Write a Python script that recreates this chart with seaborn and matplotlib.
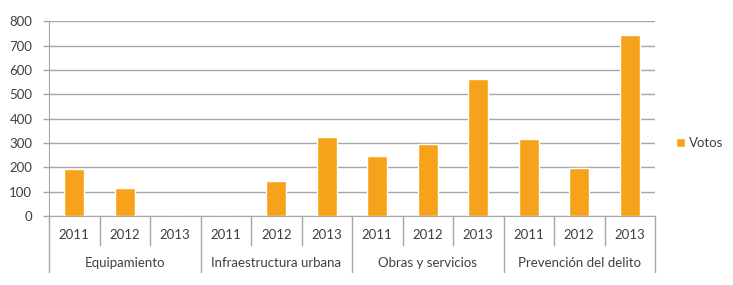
import matplotlib
matplotlib.use("Agg")
import matplotlib.pyplot as plt
import matplotlib.transforms as mtransforms
import seaborn as sns
import pandas as pd

# datos
categorias = ["Equipamiento", "Infraestructura urbana", "Obras y servicios", "Prevención del delito"]
anios = ["2011", "2012", "2013"]
votos = [193, 114, 0,
         0, 144, 325,
         247, 297, 563,
         317, 198, 745]

naranja = "#F7A21B"
gris = "#A6A6A6"

filas = []
for i, cat in enumerate(categorias):
    for j, a in enumerate(anios):
        filas.append({"clave": f"{cat}|{a}", "categoria": cat, "anio": a,
                      "votos": votos[i * 3 + j], "serie": "Votos"})
df = pd.DataFrame(filas)

sns.set_style("white")
plt.rcParams["font.family"] = ["Lato", "DejaVu Sans"]

fig = plt.figure(figsize=(7.33, 2.85), dpi=100)
ax = fig.add_axes([49 / 733, 1 - 216 / 285, (655 - 49) / 733, (216 - 21.3) / 285])

sns.barplot(data=df, x="clave", y="votos", hue="serie", palette=[naranja],
            width=0.4, ax=ax, saturation=1)

ax.set_ylim(0, 800)
ax.set_xlim(-0.5, len(df) - 0.5)
ax.set_yticks(range(0, 801, 100))
ax.yaxis.grid(True, color=gris, linewidth=1)
ax.set_axisbelow(True)
ax.set_xlabel("")
ax.set_ylabel("")
ax.set_xticks([])
ax.tick_params(axis="y", labelsize=9.5, colors="#404040", length=4, width=1,
               left=True, color=gris, pad=8)
for s in ["top", "right"]:
    ax.spines[s].set_visible(False)
ax.spines["left"].set_color(gris)
ax.spines["bottom"].set_color(gris)

# ejes de categorias en dos niveles
trans = mtransforms.blended_transform_factory(ax.transData, ax.transAxes)
alto = 216 - 21.3
fila1 = -29 / alto
fila2 = -56 / alto
for k in range(len(df) + 1):
    x = k - 0.5
    if k % 3 == 0:
        ax.plot([x, x], [0, fila2], transform=trans, color=gris, lw=1, clip_on=False)
    else:
        ax.plot([x, x], [0, fila1], transform=trans, color=gris, lw=1, clip_on=False)
for k, a in enumerate(df["anio"]):
    ax.text(k, -19 / alto, a, transform=trans, ha="center", va="center",
            fontsize=9.5, color="#404040")
for i, cat in enumerate(categorias):
    ax.text(i * 3 + 1, -47 / alto, cat, transform=trans, ha="center", va="center",
            fontsize=9.5, color="#404040")

sns.move_legend(ax, "center left", bbox_to_anchor=(1.015, 0.375), frameon=False,
                title=None, fontsize=9.5, handlelength=0.7, handleheight=0.7,
                handletextpad=0.3)
for t in ax.get_legend().get_texts():
    t.set_color("#404040")

fig.savefig("out.png", dpi=100)
